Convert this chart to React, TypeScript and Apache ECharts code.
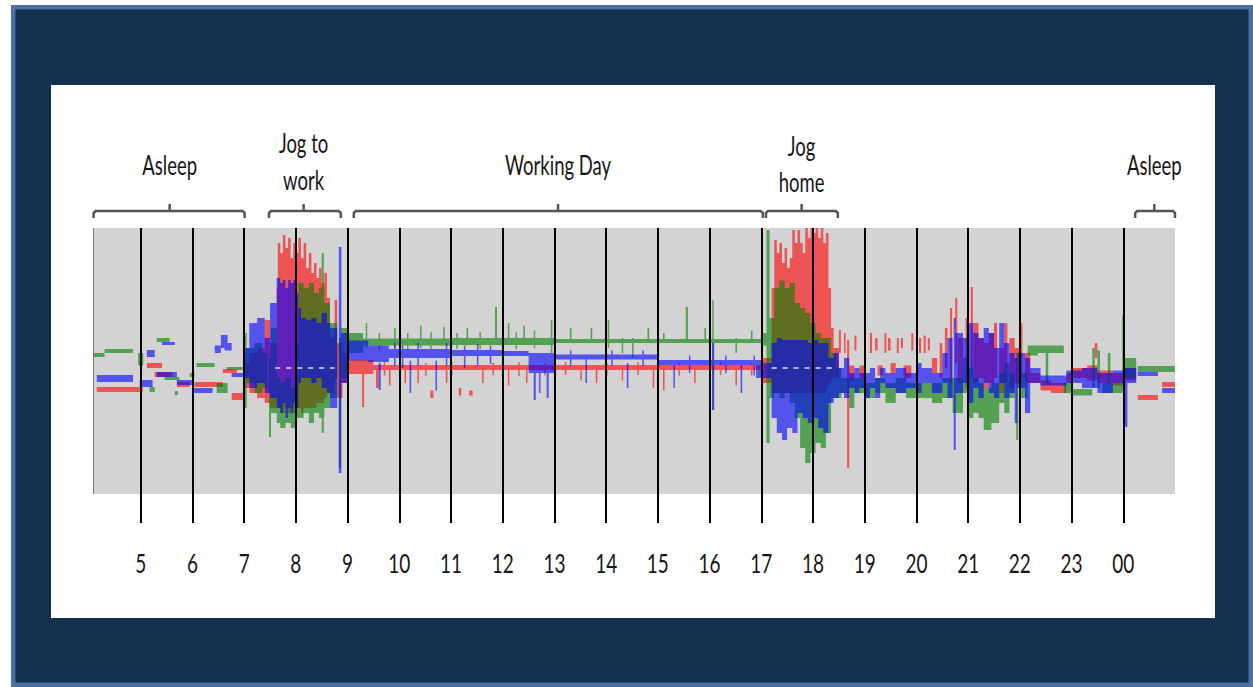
import React, { useEffect, useRef } from "react";
import * as echarts from "echarts";

// ---------- axis ----------
const HOURS = [5, 6, 7, 8, 9, 10, 11, 12, 13, 14, 15, 16, 17, 18, 19, 20, 21, 22, 23, 24];
const HOUR_LABELS = ["5", "6", "7", "8", "9", "10", "11", "12", "13", "14", "15", "16", "17", "18", "19", "20", "21", "22", "23", "00"];
const X_MIN = 4;
const X_MAX = 25;
const DATA_START = 4.09;
const Y_MIN = -3.1;
const Y_MAX = 2.8;
const PLOT_BOTTOM = -2.52;
const ZERO_SPANS = [[7.6, 8.75], [17.2, 18.45]];

// ---------- data: [startHour, endHour, low, high] ----------
type Seg = [number, number, number, number];

const RED: Seg[] = [
  // asleep
  [4.15, 5.04, -0.48, -0.38], [5.12, 5.41, 0.0, 0.1], [5.27, 5.62, -0.18, -0.08],
  [5.7, 5.95, -0.38, -0.28], [6.04, 6.59, -0.38, -0.28], [6.59, 6.86, -0.1, -0.02],
  [6.76, 7.01, -0.64, -0.5],
  // before jog
  [7.0, 7.1, -0.4, 0.1], [7.1, 7.25, -0.5, 0.3], [7.25, 7.4, -0.6, 0.4], [7.4, 7.5, -0.7, 0.96],
  [7.5, 7.63, -0.8, 0.5],
  // jog to work
  [7.63, 7.65, -0.7, 1.6], [7.65, 7.7, -0.8, 2.5], [7.7, 7.75, -0.9, 2.3], [7.75, 7.8, -0.9, 2.66],
  [7.8, 7.85, -0.8, 2.4], [7.85, 7.9, -0.9, 2.6], [7.9, 7.95, -0.8, 2.2], [7.95, 8.0, -0.9, 2.5],
  [8.0, 8.05, -0.8, 2.3], [8.05, 8.1, -0.8, 2.6], [8.1, 8.15, -0.9, 2.2], [8.15, 8.2, -0.8, 2.5],
  [8.2, 8.25, -0.8, 2.0], [8.25, 8.3, -0.8, 2.3], [8.3, 8.35, -0.8, 1.9], [8.35, 8.4, -0.8, 2.1],
  [8.4, 8.45, -0.7, 1.8], [8.45, 8.5, -0.7, 2.0], [8.5, 8.55, -0.7, 1.7], [8.55, 8.6, -0.6, 1.9],
  [8.6, 8.66, -0.5, 1.4],
  [8.66, 8.75, -0.5, 0.6], [8.75, 8.8, -0.2, 1.36], [8.8, 8.9, -0.6, 0.5], [8.9, 9.0, -0.3, 0.3],
  // working day
  [9.0, 9.5, -0.12, 0.16], [9.5, 13.0, -0.04, 0.06],
  [9.28, 9.32, -0.78, 0.0], [9.55, 9.6, -0.4, 0.0], [9.8, 9.83, -0.35, 0.0], [10.1, 10.13, -0.3, 0.0],
  [10.35, 10.38, -0.3, 0.0], [10.6, 10.66, -0.6, -0.45], [10.9, 10.93, -0.3, 0.0],
  [11.15, 11.2, -0.55, -0.4], [11.35, 11.42, -0.55, -0.45], [11.6, 11.63, -0.3, 0.0],
  [12.1, 12.13, -0.35, 0.0], [12.45, 12.48, -0.3, 0.0],
  [9.7, 9.72, -0.15, 0.12], [10.0, 10.02, -0.14, 0.12], [10.5, 10.52, -0.16, 0.1], [11.0, 11.02, -0.14, 0.12],
  [11.8, 11.82, -0.15, 0.1], [12.3, 12.32, -0.16, 0.12], [12.8, 12.82, -0.15, 0.1],
  [13.0, 17.0, -0.04, 0.06],
  [13.5, 13.53, -0.25, 0.0], [13.8, 13.83, -0.3, 0.0], [14.3, 14.33, -0.25, 0.0], [14.9, 14.93, -0.4, 0.0],
  [15.1, 15.13, -0.45, 0.0], [15.7, 15.73, -0.3, 0.0], [16.5, 16.53, -0.35, 0.0],
  [13.2, 13.22, -0.14, 0.12], [14.0, 14.02, -0.15, 0.1], [14.6, 14.62, -0.14, 0.12], [15.4, 15.42, -0.15, 0.1],
  [16.2, 16.22, -0.14, 0.12], [16.8, 16.82, -0.15, 0.1],
  // jog home
  [17.0, 17.2, -0.3, 0.2], [17.2, 17.25, -0.5, 1.6], [17.25, 17.3, -0.5, 2.56], [17.3, 17.35, -0.5, 2.3],
  [17.35, 17.4, -0.5, 2.5], [17.4, 17.45, -0.5, 2.1], [17.45, 17.5, -0.5, 2.4], [17.5, 17.55, -0.5, 2.0],
  [17.55, 17.6, -0.5, 2.2], [17.6, 17.65, -0.5, 2.76], [17.65, 17.7, -0.5, 2.5], [17.7, 17.75, -0.5, 2.76],
  [17.75, 17.8, -0.5, 2.5], [17.8, 17.85, -0.5, 2.3], [17.85, 17.9, -0.5, 2.8], [17.9, 17.95, -0.5, 2.6],
  [17.95, 18.0, -0.5, 2.8], [18.0, 18.05, -0.5, 2.7], [18.05, 18.1, -0.5, 2.8], [18.1, 18.15, -0.5, 2.6],
  [18.15, 18.2, -0.5, 2.8], [18.2, 18.25, -0.5, 2.5], [18.25, 18.3, -0.4, 2.7], [18.3, 18.35, -0.3, 1.6],
  [18.35, 18.4, -0.2, 0.8],
  // evening
  [18.4, 18.5, -0.2, 0.4], [18.5, 18.54, 0.3, 0.76], [18.6, 18.63, 0.3, 0.7], [18.66, 18.7, -2.0, 0.56],
  [18.7, 18.8, -0.25, 0.05], [18.8, 18.84, 0.35, 0.65], [18.9, 19.0, -0.2, 0.05], [19.1, 19.14, 0.3, 0.7],
  [19.2, 19.25, 0.35, 0.6], [19.25, 19.35, -0.15, 0.05], [19.38, 19.42, 0.3, 0.7], [19.45, 19.5, 0.35, 0.6],
  [19.5, 19.6, -0.1, 0.1], [19.62, 19.66, 0.3, 0.6], [19.7, 19.74, 0.4, 0.6], [19.75, 19.9, -0.2, 0.05],
  [19.9, 19.94, 0.35, 0.7], [20.05, 20.09, 0.3, 0.6], [20.14, 20.18, 0.3, 0.65], [20.22, 20.26, 0.35, 0.6],
  [20.3, 20.4, -0.1, 0.2], [20.45, 20.5, -0.2, 0.5], [20.55, 20.6, 0.0, 0.8], [20.65, 20.69, -0.3, 1.2],
  [20.75, 20.79, 0.1, 1.4], [20.8, 20.9, -0.3, 0.6], [20.95, 21.0, -0.4, 1.0], [21.05, 21.09, -0.2, 1.62],
  [21.1, 21.2, -0.3, 0.9], [21.2, 21.3, -0.2, 0.6], [21.3, 21.4, -0.4, 0.5], [21.4, 21.5, -0.3, 0.7],
  [21.5, 21.56, -0.2, 0.9], [21.6, 21.7, -0.5, 0.4], [21.7, 21.76, -0.3, 0.9], [21.8, 21.9, -0.4, 0.6],
  [21.9, 22.0, -0.3, 0.4], [22.0, 22.05, -0.2, 0.9], [22.1, 22.2, -0.3, 0.3], [22.2, 22.4, -0.3, -0.1],
  [22.4, 22.6, -0.45, -0.25], [22.6, 22.9, -0.5, -0.3], [22.9, 23.0, -0.3, -0.1], [23.0, 23.3, -0.2, 0.0],
  [23.3, 23.5, -0.25, 0.05], [23.45, 23.5, 0.2, 0.5], [23.5, 23.8, -0.3, -0.05], [23.8, 24.0, -0.35, -0.1],
  [24.0, 24.25, -0.25, 0.0],
  // asleep again
  [24.28, 24.67, -0.64, -0.54], [24.75, 25.0, -0.38, -0.28],
];

const GREEN: Seg[] = [
  // asleep
  [4.09, 4.3, 0.22, 0.3], [4.3, 4.85, 0.3, 0.38], [4.95, 5.05, 0.05, 0.3], [5.17, 5.27, -0.48, -0.38],
  [5.31, 5.56, 0.52, 0.6], [5.46, 5.75, -0.24, -0.18], [5.66, 5.72, -0.54, -0.46], [5.95, 6.04, -0.18, -0.1],
  [6.08, 6.43, 0.02, 0.1], [6.47, 6.68, -0.5, -0.3], [6.66, 6.97, -0.04, 0.02],
  // before jog
  [7.0, 7.05, -0.8, 0.7], [7.05, 7.2, -0.3, 0.4], [7.2, 7.35, -0.5, 0.5], [7.35, 7.45, -0.4, 0.3],
  [7.48, 7.52, -1.38, 0.2], [7.52, 7.63, -0.9, 0.8],
  // jog to work
  [7.63, 7.7, -1.1, -0.2], [7.7, 7.8, -1.2, -0.3], [7.8, 7.9, -1.1, -0.2], [7.9, 8.0, -1.2, -0.4],
  [8.0, 8.05, -1.0, 0.5], [8.05, 8.15, -1.0, 1.7], [8.15, 8.25, -0.9, 1.6], [8.25, 8.35, -1.1, 1.7],
  [8.35, 8.45, -0.9, 1.5], [8.45, 8.55, -1.0, 1.6], [8.5, 8.54, -1.3, 2.3], [8.55, 8.66, -0.8, 1.3],
  [8.66, 8.8, -0.6, 0.9], [8.83, 8.87, -2.0, 0.6], [8.87, 9.0, -0.2, 0.8],
  // working day
  [9.0, 9.3, 0.3, 0.7], [9.3, 11.0, 0.45, 0.59], [11.0, 13.0, 0.46, 0.6], [13.0, 17.0, 0.5, 0.58],
  [9.35, 9.38, 0.4, 0.9], [9.6, 9.62, 0.36, 0.7], [9.9, 9.93, 0.4, 0.8], [10.15, 10.17, 0.36, 0.7],
  [10.4, 10.43, 0.4, 0.85], [10.6, 10.62, 0.38, 0.72], [10.85, 10.88, 0.45, 0.82], [11.1, 11.12, 0.38, 0.7],
  [11.3, 11.33, 0.45, 0.8], [11.55, 11.57, 0.38, 0.72], [11.85, 11.89, 0.5, 1.22], [12.1, 12.13, 0.5, 0.9],
  [12.25, 12.27, 0.38, 0.72], [12.4, 12.43, 0.5, 0.85], [12.6, 12.62, 0.4, 0.75], [12.93, 12.96, 0.3, 0.96],
  [13.3, 13.33, 0.5, 0.8], [13.7, 13.73, 0.5, 0.8], [14.03, 14.06, 0.4, 0.96], [14.3, 14.33, 0.3, 0.6],
  [14.5, 14.53, 0.2, 0.6], [14.8, 14.83, 0.5, 0.8], [15.1, 15.13, 0.5, 0.7], [15.54, 15.58, 0.5, 1.22],
  [15.9, 15.93, 0.5, 0.8], [16.05, 16.08, -0.84, 1.36], [16.5, 16.53, 0.3, 0.6], [16.8, 16.83, 0.5, 0.75],
  // jog home
  [17.0, 17.1, 0.45, 0.7], [17.1, 17.16, -1.5, 2.76], [17.16, 17.25, -0.6, 1.0],
  [17.25, 17.35, -0.5, 1.6], [17.35, 17.45, -0.6, 1.75], [17.45, 17.55, -0.5, 1.6], [17.55, 17.65, -0.7, 1.7],
  [17.65, 17.75, -1.0, 1.3], [17.75, 17.85, -1.6, 1.2], [17.85, 17.95, -1.9, 1.1], [17.95, 18.05, -1.7, 0.9],
  [18.05, 18.15, -1.5, 0.7], [18.15, 18.25, -1.6, 0.6], [18.25, 18.35, -1.3, 0.6], [18.35, 18.45, -0.6, 0.3],
  // evening
  [18.45, 18.55, -0.6, 0.0], [18.55, 18.7, -0.5, -0.2], [18.7, 18.8, -0.8, -0.2], [18.8, 19.0, -0.5, -0.2],
  [19.0, 19.2, -0.6, -0.3], [19.2, 19.4, -0.5, -0.2], [19.4, 19.6, -0.7, -0.3], [19.6, 19.8, -0.5, -0.2],
  [19.8, 20.0, -0.6, -0.3], [20.0, 20.3, -0.6, -0.3], [20.3, 20.5, -0.7, -0.3], [20.5, 20.7, -0.6, -0.2],
  [20.7, 20.9, -0.9, -0.2], [20.9, 21.0, -0.5, 0.2], [21.0, 21.1, -1.0, 0.0], [21.1, 21.2, -0.9, -0.2],
  [21.2, 21.3, -1.0, -0.3], [21.3, 21.45, -1.24, -0.4], [21.45, 21.6, -1.1, -0.3], [21.6, 21.7, -0.7, -0.1],
  [21.7, 21.8, -0.9, 0.1], [21.8, 21.9, -0.6, -0.1], [21.93, 21.97, -1.44, 0.3], [22.0, 22.15, -0.6, -0.1],
  [22.15, 22.35, 0.25, 0.45], [22.35, 22.85, 0.3, 0.45], [22.5, 22.55, -0.3, 0.4], [22.85, 23.0, -0.5, -0.3],
  [23.0, 23.4, -0.55, -0.42], [23.4, 23.45, -0.4, 0.4], [23.5, 23.55, -0.4, 0.35], [23.6, 23.8, -0.5, -0.3],
  [23.7, 23.75, -0.3, 0.3], [23.8, 24.0, -0.5, -0.3], [23.98, 24.02, -0.5, 1.06], [24.02, 24.25, -0.2, 0.2],
  // asleep again
  [24.28, 25.0, -0.08, 0.04],
];

const BLUE: Seg[] = [
  // asleep
  [4.15, 4.85, -0.28, -0.14], [4.98, 5.23, -0.38, -0.24], [5.12, 5.27, 0.22, 0.36], [5.41, 5.66, 0.46, 0.52],
  [5.31, 5.7, -0.18, -0.08], [5.7, 5.99, -0.34, -0.24], [6.01, 6.39, -0.5, -0.4], [6.43, 6.55, 0.3, 0.45],
  [6.55, 6.68, 0.4, 0.66], [6.62, 6.76, 0.35, 0.5], [6.76, 7.01, -0.18, -0.1],
  // before jog
  [7.0, 7.1, -0.2, 0.4], [7.1, 7.25, -0.4, 0.9], [7.25, 7.4, -0.3, 1.0], [7.4, 7.5, -0.5, 0.6],
  [7.5, 7.63, -0.6, 1.3],
  // jog to work
  [7.63, 7.7, -0.8, 1.8], [7.7, 7.75, -0.9, 1.7], [7.75, 7.8, -0.7, 1.76], [7.8, 7.85, -1.0, 1.6],
  [7.85, 7.9, -0.8, 1.76], [7.9, 7.95, -0.9, 1.7], [7.95, 8.0, -0.7, 1.76], [8.0, 8.05, -0.8, 1.5],
  [8.05, 8.1, -0.3, 1.2], [8.1, 8.2, -0.2, 1.0], [8.2, 8.3, -0.2, 0.96], [8.3, 8.4, -0.3, 1.0],
  [8.4, 8.5, -0.2, 0.9], [8.5, 8.6, -0.4, 1.1], [8.6, 8.66, -0.5, 0.9],
  [8.66, 8.8, -0.8, 0.8], [8.83, 8.88, -2.1, 2.42], [8.88, 9.0, -0.3, 0.7],
  // working day
  [9.0, 9.4, 0.15, 0.55], [9.4, 9.8, 0.12, 0.45], [9.6, 9.64, -0.44, 0.1], [9.8, 10.5, 0.2, 0.38],
  [10.2, 10.23, -0.5, 0.15], [10.5, 11.0, 0.2, 0.38], [10.7, 10.73, -0.45, 0.15], [11.0, 12.0, 0.24, 0.36],
  [9.9, 9.92, 0.05, 0.5], [10.05, 10.07, 0.0, 0.45], [10.35, 10.37, 0.05, 0.5], [10.9, 10.92, 0.05, 0.5],
  [11.25, 11.27, 0.0, 0.45], [11.5, 11.52, 0.05, 0.48], [11.75, 11.77, 0.08, 0.45],
  [12.0, 12.5, 0.24, 0.34], [12.5, 13.0, -0.1, 0.3], [12.6, 12.64, -0.64, 0.2], [12.85, 12.89, -0.6, 0.2],
  [12.7, 12.73, -0.5, 0.1],
  [13.0, 15.0, 0.17, 0.27], [13.6, 13.63, -0.3, 0.2], [14.4, 14.43, -0.4, 0.1], [13.3, 13.32, 0.05, 0.35],
  [14.1, 14.12, 0.05, 0.35], [14.7, 14.72, 0.05, 0.35],
  [15.0, 17.0, 0.06, 0.16], [15.3, 15.33, -0.4, 0.1], [16.05, 16.09, -0.84, 0.5], [16.6, 16.63, -0.5, 0.1],
  [15.6, 15.62, -0.1, 0.25], [16.3, 16.32, -0.1, 0.25], [16.85, 16.87, -0.15, 0.25],
  // jog home
  [16.9, 17.2, -0.2, 0.1], [17.2, 17.3, -1.0, 0.5], [17.3, 17.4, -1.3, 0.6], [17.4, 17.5, -1.44, 0.56],
  [17.5, 17.6, -1.2, 0.56], [17.6, 17.7, -1.3, 0.56], [17.7, 17.8, -0.9, 0.56], [17.8, 17.9, -1.0, 0.56],
  [17.9, 18.0, -1.1, 0.5], [18.0, 18.1, -1.0, 0.56], [18.1, 18.2, -1.2, 0.5], [18.2, 18.3, -1.3, 0.5],
  [18.3, 18.4, -0.7, 0.2],
  // evening
  [18.4, 18.5, -0.6, 0.3], [18.5, 18.6, -0.5, 0.0], [18.6, 18.7, -0.6, 0.2], [18.7, 18.8, -0.4, -0.1],
  [18.8, 18.9, -0.5, 0.0], [18.9, 19.0, -0.4, -0.1], [19.0, 19.1, -0.6, -0.1], [19.1, 19.2, -0.4, 0.0],
  [19.2, 19.3, -0.6, -0.2], [19.3, 19.4, -0.3, 0.0], [19.4, 19.6, -0.4, -0.1], [19.6, 19.8, -0.5, 0.0],
  [19.8, 20.0, -0.4, -0.1], [20.0, 20.1, -0.5, 0.1], [20.1, 20.3, -0.3, 0.0], [20.3, 20.5, -0.5, -0.1],
  [20.5, 20.6, -0.3, 0.3], [20.6, 20.7, -0.6, 0.6], [20.72, 20.76, -1.64, 1.0], [20.76, 20.9, -0.5, 0.7],
  [20.9, 21.0, -0.3, 0.6], [21.0, 21.1, -0.7, 0.9], [21.1, 21.2, -0.4, 0.7], [21.2, 21.3, -0.6, 0.6],
  [21.3, 21.4, -0.3, 0.8], [21.4, 21.5, -0.5, 0.7], [21.5, 21.6, -0.6, 0.4], [21.6, 21.7, -0.3, 0.9],
  [21.7, 21.8, -0.6, 0.5], [21.8, 21.9, -0.5, 0.3], [21.9, 21.95, -1.1, 0.2], [21.95, 22.1, -0.4, 0.3],
  [22.1, 22.2, -0.9, 0.2], [22.2, 22.4, -0.3, 0.0], [22.4, 22.9, -0.35, -0.15], [22.9, 23.2, -0.3, -0.05],
  [23.2, 23.5, -0.4, 0.0], [23.5, 23.8, -0.5, -0.1], [23.8, 24.0, -0.3, -0.05], [24.0, 24.08, -1.18, 0.0],
  [24.08, 24.25, -0.3, 0.0],
  // asleep again
  [24.28, 24.67, -0.16, -0.08], [24.75, 25.0, -0.5, -0.4],
];

// ---------- annotations ----------
const ANNOTATIONS = [
  { lines: ["Asleep"], start: 4.09, end: 7.01, mid: 5.56 },
  { lines: ["Jog to", "work"], start: 7.48, end: 8.87, mid: 8.15 },
  { lines: ["Working Day"], start: 9.12, end: 17.03, mid: 13.07 },
  { lines: ["Jog", "home"], start: 17.09, end: 18.48, mid: 17.78 },
  { lines: ["Asleep"], start: 24.23, end: 25.0, mid: 24.6 },
];

const COLORS = { red: "rgba(255,0,0,0.6)", green: "rgba(0,128,0,0.6)", blue: "rgba(0,0,255,0.6)" };
const FONT = "Lato, sans-serif";
const TEXT_SCALE_Y = 1.45;

function bandSeries(name: string, segs: Seg[], color: string, z: number) {
  return {
    type: "custom",
    name,
    z,
    data: segs,
    encode: { x: [0, 1], y: [2, 3] },
    renderItem: (params: any, api: any) => {
      if (params.dataIndex !== 0) return null;
      let d = "";
      for (const s of segs) {
        const a = api.coord([s[0], s[3]]);
        const b = api.coord([s[1], s[2]]);
        const x0 = a[0];
        const x1 = Math.max(b[0], a[0] + 1.5);
        const y0 = a[1];
        const y1 = Math.max(b[1], a[1] + 3);
        d += `M${x0.toFixed(1)} ${y0.toFixed(1)}H${x1.toFixed(1)}V${y1.toFixed(1)}H${x0.toFixed(1)}Z`;
      }
      return { type: "path", shape: { pathData: d }, style: { fill: color } };
    },
  };
}

export default function App() {
  const ref = useRef<HTMLDivElement>(null);
  useEffect(() => {
    if (!ref.current) return;
    const chart = echarts.init(ref.current, null, { renderer: "svg" });
    chart.setOption({
      animation: false,
      backgroundColor: "#ffffff",
      grid: { left: 89, right: 78, top: 228, bottom: 164, containLabel: false },
      xAxis: {
        type: "value",
        min: X_MIN,
        max: X_MAX,
        interval: 1,
        axisLine: { show: false },
        axisTick: { show: false },
        splitLine: { show: false },
        axisLabel: { show: false },
      },
      yAxis: { type: "value", min: Y_MIN, max: Y_MAX, show: false, splitLine: { show: false } },
      series: [
        bandSeries("x", RED, COLORS.red, 2),
        bandSeries("y", GREEN, COLORS.green, 3),
        bandSeries("z", BLUE, COLORS.blue, 4),
        {
          type: "custom",
          name: "hour labels",
          z: 10,
          clip: false,
          silent: true,
          data: HOURS.map((h, i) => [h, Y_MIN, i]),
          renderItem: (params: any, api: any) => {
            const p = api.coord([api.value(0), api.value(1)]);
            return {
              type: "text",
              x: p[0],
              y: p[1] + 40,
              scaleY: TEXT_SCALE_Y,
              style: {
                text: HOUR_LABELS[api.value(2)],
                align: "center",
                verticalAlign: "middle",
                fontFamily: FONT,
                fontSize: 19,
                fill: "#161616",
              },
            };
          },
        },
        {
          type: "line",
          data: [],
          z: 10,
          silent: true,
          markLine: {
            silent: true,
            symbol: "none",
            label: { show: false },
            animation: false,
            data: [
              ...HOURS.map((h) => ({ xAxis: h, lineStyle: { color: "#000", width: 2, type: "solid" } })),
              ...ZERO_SPANS.map((s) => [
                { coord: [s[0], 0], lineStyle: { color: "rgba(225,225,225,0.75)", width: 2, type: [5, 6] } },
                { coord: [s[1], 0] },
              ]),
              [
                { coord: [DATA_START, Y_MAX], lineStyle: { color: "#777", width: 1, type: "solid" } },
                { coord: [DATA_START, PLOT_BOTTOM] },
              ],
            ],
          },
        },
      ],
    });

    const px = (t: number, v: number) => chart.convertToPixel({ gridIndex: 0 }, [t, v]) as number[];
    const tl = px(DATA_START, Y_MAX);
    const br = px(X_MAX, PLOT_BOTTOM);
    const graphics: any[] = [
      {
        type: "rect", z: -30, silent: true,
        shape: { x: 13.2, y: 7.2, width: 1237.6, height: 677.6 },
        style: { fill: "#14304f", stroke: "#4a71a0", lineWidth: 4.5 },
      },
      { type: "rect", z: -20, silent: true, shape: { x: 51, y: 85, width: 1164, height: 533 }, style: { fill: "#ffffff" } },
      {
        type: "rect", z: -10, silent: true,
        shape: { x: tl[0], y: tl[1], width: br[0] - tl[0], height: br[1] - tl[1] },
        style: { fill: "#d3d3d3" },
      },
    ];
    const braceY = 211;
    ANNOTATIONS.forEach((a) => {
      const x0 = px(a.start, 0)[0];
      const x1 = px(a.end, 0)[0];
      const xm = px(a.mid, 0)[0];
      graphics.push({
        type: "polyline", silent: true,
        shape: { points: [[x0, braceY + 7], [x0, braceY + 2], [x0 + 2, braceY], [x1 - 2, braceY], [x1, braceY + 2], [x1, braceY + 7]] },
        style: { stroke: "#555", lineWidth: 2.5, fill: null },
      });
      graphics.push({
        type: "line", silent: true,
        shape: { x1: xm, y1: braceY, x2: xm, y2: braceY - 7 },
        style: { stroke: "#555", lineWidth: 2.5 },
      });
      const ys = a.lines.length === 1 ? [165] : a.lines[0] === "Jog" ? [146, 182] : [143, 180];
      a.lines.forEach((ln, i) => {
        graphics.push({
          type: "text", silent: true,
          x: xm, y: ys[i], scaleY: TEXT_SCALE_Y,
          style: {
            text: ln, x: 0, y: 0, align: "center", verticalAlign: "middle",
            fontFamily: FONT, fontSize: 18.5, fill: "#161616",
          },
        });
      });
    });
    chart.setOption({ graphic: graphics });
    return () => chart.dispose();
  }, []);
  return <div ref={ref} style={{ position: "absolute", left: 0, top: 0, width: 1253, height: 687 }} />;
}
